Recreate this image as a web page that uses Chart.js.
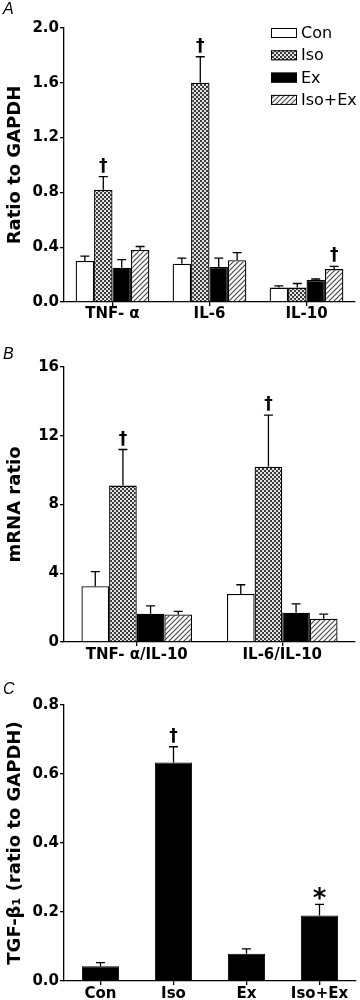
<!DOCTYPE html>
<html>
<head>
<meta charset="utf-8">
<script src="https://cdn.jsdelivr.net/npm/chart.js@4.4.1/dist/chart.umd.min.js"></script>
<style>
html, body { margin: 0; padding: 0; background: #fff; }
.panel { position: absolute; left: 0; width: 360px; }
.letter { position: absolute; left: 3px; font: italic 16px "Liberation Sans", Arial, sans-serif; color: #000; }
</style>
</head>
<body>
<div class="panel" style="top:0;height:330px"><canvas id="chartA" width="360" height="330"></canvas></div>
<div class="panel" style="top:330px;height:335px"><canvas id="chartB" width="360" height="335"></canvas></div>
<div class="panel" style="top:665px;height:335px"><canvas id="chartC" width="360" height="335"></canvas></div>
<div class="letter" style="top:0px">A</div>
<div class="letter" style="top:345px">B</div>
<div class="letter" style="top:680px">C</div>
<script>
// --- DATA ---

const GROUPS = ['Con', 'Iso', 'Ex', 'Iso+Ex'];

// panel A: cytokine mRNA, ratio to GAPDH
const cytokines = ['TNF- α', 'IL-6', 'IL-10'];
const conA = [0.30, 0.28, 0.105];
const isoA = [0.82, 1.60, 0.105];
const exA = [0.25, 0.255, 0.16];
const isoExA = [0.38, 0.305, 0.24];
const conA_err = [0.035, 0.04, 0.012];
const isoA_err = [0.095, 0.19, 0.03];
const exA_err = [0.06, 0.065, 0.008];
const isoExA_err = [0.025, 0.055, 0.02];
const isoA_marks = ['†', '†', ''];
const isoExA_marks = ['', '', '†'];
const ticksA = [0.0, 0.4, 0.8, 1.2, 1.6, 2.0];

// panel B: mRNA ratios
const ratios = ['TNF- α/IL-10', 'IL-6/IL-10'];
const conB = [3.25, 2.8];
const isoB = [9.1, 10.2];
const exB = [1.65, 1.7];
const isoExB = [1.6, 1.35];
const conB_err = [0.85, 0.53];
const isoB_err = [2.1, 3.0];
const exB_err = [0.45, 0.52];
const isoExB_err = [0.18, 0.27];
const isoB_marks = ['†', '†'];
const ticksB = [0, 4, 8, 12, 16];

// panel C: TGF-beta1
const tgfC = [0.043, 0.633, 0.079, 0.19];
const tgfC_err = [0.01, 0.046, 0.014, 0.032];
const tgfC_marks = ['', '†', '', '*'];
const ticksC = [0.0, 0.2, 0.4, 0.6, 0.8];

// --- STYLE HELPERS ---

const FONT = 'DejaVu Sans';
Chart.defaults.font.family = FONT;
Chart.defaults.color = '#000';
Chart.defaults.animation = false;

// 2px checkerboard, reads as mid grey
function checkPattern() {
    const c = document.createElement('canvas');
    c.width = 4; c.height = 4;
    const g = c.getContext('2d');
    g.fillStyle = '#e4e4e4';
    g.fillRect(0, 0, 4, 4);
    g.fillStyle = '#3a3a3a';
    g.fillRect(0, 0, 2, 2);
    g.fillRect(2, 2, 2, 2);
    return g.createPattern(c, 'repeat');
}

function hatchPattern() {
    const c = document.createElement('canvas');
    c.width = 5; c.height = 5;
    const g = c.getContext('2d');
    g.fillStyle = '#ffffff';
    g.fillRect(0, 0, 5, 5);
    g.strokeStyle = '#4a4a4a';
    g.lineWidth = 1.2;
    g.beginPath();
    g.moveTo(-1, 6); g.lineTo(6, -1);
    g.moveTo(-1, 1); g.lineTo(1, -1);
    g.moveTo(4, 6); g.lineTo(6, 4);
    g.stroke();
    return g.createPattern(c, 'repeat');
}

const FILLS = ['#ffffff', checkPattern(), '#000000', hatchPattern()];

// error bars + significance marks, drawn above each bar
const errorBarPlugin = {
    id: 'errorBars',
    afterDatasetsDraw(chart) {
        const ctx = chart.ctx;
        const yScale = chart.scales.y;
        chart.data.datasets.forEach((ds, i) => {
            const meta = chart.getDatasetMeta(i);
            meta.data.forEach((bar, j) => {
                const top = yScale.getPixelForValue(ds.data[j] + ds.errors[j]);
                ctx.save();
                ctx.strokeStyle = '#000';
                ctx.lineWidth = 1.3;
                ctx.beginPath();
                ctx.moveTo(bar.x, bar.y);
                ctx.lineTo(bar.x, top);
                ctx.moveTo(bar.x - 4.5, top);
                ctx.lineTo(bar.x + 4.5, top);
                ctx.stroke();
                const mark = ds.marks ? ds.marks[j] : '';
                if (mark) {
                    ctx.fillStyle = '#000';
                    ctx.font = mark === '*' ? 'bold 26px ' + FONT : 'bold 17px ' + FONT;
                    ctx.textAlign = 'center';
                    ctx.textBaseline = 'alphabetic';
                    const m = ctx.measureText(mark);
                    ctx.fillText(mark, bar.x, top - 4 - m.actualBoundingBoxDescent);
                }
                ctx.restore();
            });
        });
    }
};

// legend box in the top right of panel A
const boxLegendPlugin = {
    id: 'boxLegend',
    afterDraw(chart, args, opts) {
        if (!opts.show) return;
        const ctx = chart.ctx;
        chart.data.datasets.forEach((ds, i) => {
            const cy = 33 + i * 22.3;
            ctx.save();
            ctx.fillStyle = ds.backgroundColor;
            ctx.fillRect(271, cy - 5, 26, 10);
            ctx.strokeStyle = '#000';
            ctx.lineWidth = 1;
            ctx.strokeRect(271.5, cy - 4.5, 25, 9);
            ctx.fillStyle = '#000';
            ctx.font = '16px ' + FONT;
            ctx.textBaseline = 'middle';
            ctx.textAlign = 'left';
            ctx.fillText(ds.label, 301, cy + 1);
            ctx.restore();
        });
    }
};

function yAxis(ticks, title, decimals) {
    return {
        min: ticks[0],
        max: ticks[ticks.length - 1],
        afterBuildTicks: s => { s.ticks = ticks.map(v => ({ value: v })); },
        afterFit: s => { s.width = 64; },
        ticks: {
            padding: 1,
            font: { size: 15, weight: 'bold' },
            callback: v => v.toFixed(decimals)
        },
        grid: { display: true, drawOnChartArea: false, drawTicks: true, tickLength: 4, color: '#000', lineWidth: 1.3 },
        border: { display: true, color: '#000', width: 1.3 },
        title: { display: true, text: title, font: { size: 18, weight: 'bold' }, padding: { top: 5, bottom: 0 } }
    };
}

function xAxis(height, labelSize, padding) {
    return {
        afterFit: s => { s.height = height; },
        ticks: { padding: padding, font: { size: labelSize, weight: 'bold', lineHeight: 1 }, maxRotation: 0, autoSkip: false },
        grid: { display: true, offset: false, drawOnChartArea: false, drawTicks: true, tickLength: 4, color: '#000', lineWidth: 1.3 },
        border: { display: true, color: '#000', width: 1.3 }
    };
}

function groupedSets(values, errors, marks) {
    return GROUPS.map((g, i) => ({
        label: g,
        data: values[i],
        errors: errors[i],
        marks: marks[i],
        backgroundColor: FILLS[i],
        borderColor: '#000',
        borderWidth: 1.3,
        categoryPercentage: 0.76,
        barPercentage: 1.0
    }));
}

// --- PANEL A ---
new Chart(document.getElementById('chartA'), {
    type: 'bar',
    data: {
        labels: cytokines,
        datasets: groupedSets(
            [conA, isoA, exA, isoExA],
            [conA_err, isoA_err, exA_err, isoExA_err],
            [null, isoA_marks, null, isoExA_marks]
        )
    },
    options: {
        responsive: false,
        layout: { padding: { top: 28, right: 5, left: 0, bottom: 0 } },
        scales: {
            x: xAxis(28, 15, 1),
            y: yAxis(ticksA, 'Ratio to GAPDH', 1)
        },
        plugins: { legend: { display: false }, tooltip: { enabled: false }, boxLegend: { show: true } }
    },
    plugins: [errorBarPlugin, boxLegendPlugin]
});

// --- PANEL B ---
new Chart(document.getElementById('chartB'), {
    type: 'bar',
    data: {
        labels: ratios,
        datasets: groupedSets(
            [conB, isoB, exB, isoExB],
            [conB_err, isoB_err, exB_err, isoExB_err],
            [null, isoB_marks, null, null]
        )
    },
    options: {
        responsive: false,
        layout: { padding: { top: 37, right: 5, left: 0, bottom: 0 } },
        scales: {
            x: xAxis(23, 15, 1.5),
            y: yAxis(ticksB, 'mRNA ratio', 0)
        },
        plugins: { legend: { display: false }, tooltip: { enabled: false } }
    },
    plugins: [errorBarPlugin]
});

// --- PANEL C ---
new Chart(document.getElementById('chartC'), {
    type: 'bar',
    data: {
        labels: GROUPS,
        datasets: [{
            label: 'TGF-β1',
            data: tgfC,
            errors: tgfC_err,
            marks: tgfC_marks,
            backgroundColor: '#000',
            borderColor: '#000',
            borderWidth: 1,
            categoryPercentage: 1.0,
            barPercentage: 0.51
        }]
    },
    options: {
        responsive: false,
        layout: { padding: { top: 40, right: 4, left: 0, bottom: 0 } },
        scales: {
            x: xAxis(19, 15, 1.8),
            y: yAxis(ticksC, 'TGF-β₁ (ratio to GAPDH)', 1)
        },
        plugins: { legend: { display: false }, tooltip: { enabled: false } }
    },
    plugins: [errorBarPlugin]
});
</script>
</body>
</html>
